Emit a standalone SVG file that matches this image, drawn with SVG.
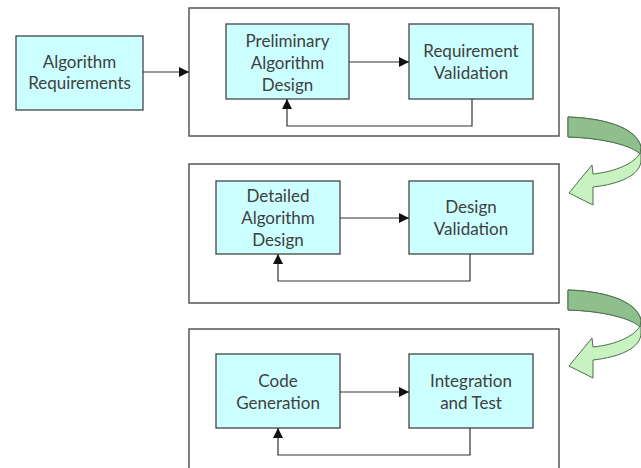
<svg xmlns="http://www.w3.org/2000/svg" width="641" height="468" viewBox="0 0 641 468">
<defs>
<style>
.outer{fill:#ffffff;stroke:#555555;stroke-width:1.5}
.box{fill:#ccffff;stroke:#444444;stroke-width:1.3}
.lbl{font-family:Lato,"Open Sans","Liberation Sans",sans-serif;font-size:17px;fill:#404040;text-anchor:middle}
.conn{fill:none;stroke:#333333;stroke-width:1.2}
.cl{fill:#c8f2c0;stroke:#4f6f4f;stroke-width:1}
.cd{fill:#8fbf8c;stroke:#4f6f4f;stroke-width:1}
</style>
<marker id="ah" markerUnits="userSpaceOnUse" markerWidth="12" markerHeight="12" refX="10" refY="5" orient="auto">
<path d="M0,0 L10,5 L0,10 Z" fill="#111111"/>
</marker>
<g id="curl">
<path class="cl" d="M568,117 C600,118 636,126 641,147 L641,160 C641,175 620,184 593,187 L593,205 L569,193 L592,165 L593,174 C615,172 635,163 640,153 C632,146 605,138 568,137 Z"/>
<path class="cd" d="M568,117 C600,118 636,126 641,147 L640,154 C632,146 605,138 568,137 Z"/>
</g>
</defs>
<rect width="641" height="468" fill="#ffffff"/>
<g id="stage1"><rect class="outer" x="189" y="8" width="370" height="128"/></g>
<g id="stage2"><rect class="outer" x="189" y="164" width="370" height="139"/></g>
<g id="stage3"><rect class="outer" x="189" y="329" width="370" height="145"/></g>
<g id="curl1"><use href="#curl"/></g>
<g id="curl2"><use href="#curl" transform="translate(0,173)"/></g>
<g id="n-algreq"><rect class="box" x="16" y="36" width="127" height="74"/>
<text class="lbl" x="79.5" y="67.5">Algorithm</text><text class="lbl" x="79.5" y="89">Requirements</text></g>
<g id="n-prelim"><rect class="box" x="226" y="24" width="123" height="75"/>
<text class="lbl" x="287.5" y="47">Preliminary</text><text class="lbl" x="287.5" y="69">Algorithm</text><text class="lbl" x="287.5" y="90.5">Design</text></g>
<g id="n-reqval"><rect class="box" x="409" y="24" width="124" height="75"/>
<text class="lbl" x="471" y="57">Requirement</text><text class="lbl" x="471" y="79">Validation</text></g>
<g id="n-detailed"><rect class="box" x="216" y="181" width="124" height="73"/>
<text class="lbl" x="278" y="202">Detailed</text><text class="lbl" x="278" y="224">Algorithm</text><text class="lbl" x="278" y="245.5">Design</text></g>
<g id="n-desval"><rect class="box" x="409" y="181" width="124" height="73"/>
<text class="lbl" x="471" y="213">Design</text><text class="lbl" x="471" y="235">Validation</text></g>
<g id="n-code"><rect class="box" x="216" y="354" width="124" height="74"/>
<text class="lbl" x="278" y="387">Code</text><text class="lbl" x="278" y="409">Generation</text></g>
<g id="n-integ"><rect class="box" x="409" y="354" width="124" height="74"/>
<text class="lbl" x="471" y="387">Integration</text><text class="lbl" x="471" y="409">and Test</text></g>
<g id="connectors">
<path class="conn" d="M143,72 L189,72" marker-end="url(#ah)"/>
<path class="conn" d="M349,62 L409,62" marker-end="url(#ah)"/>
<path class="conn" d="M472,99 V126 H287 V99" marker-end="url(#ah)"/>
<path class="conn" d="M340,218 L409,218" marker-end="url(#ah)"/>
<path class="conn" d="M470,254 V281 H278 V254" marker-end="url(#ah)"/>
<path class="conn" d="M340,392 L409,392" marker-end="url(#ah)"/>
<path class="conn" d="M470,428 V455 H278 V428" marker-end="url(#ah)"/>
</g>
</svg>
